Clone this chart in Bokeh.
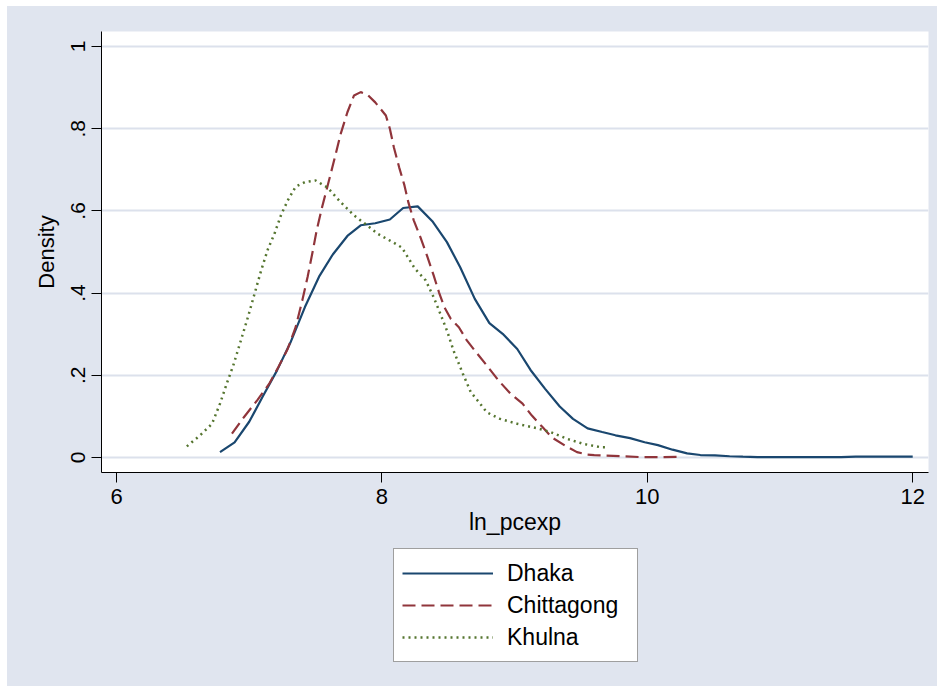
from bokeh.plotting import figure
from bokeh.layouts import column
from bokeh.models import Legend, LegendItem, FixedTicker, Range1d
from bokeh.embed import file_html
from bokeh.resources import INLINE

# ---- data ----
dhaka_x = [6.78, 6.89, 7.00, 7.10, 7.21, 7.31, 7.42, 7.53, 7.63, 7.74, 7.84, 7.95,
           8.06, 8.16, 8.27, 8.38, 8.49, 8.59, 8.70, 8.81, 8.91, 9.02, 9.12, 9.23,
           9.34, 9.44, 9.55, 9.66, 9.76, 9.87, 9.98, 10.08, 10.19, 10.30, 10.40,
           10.51, 10.62, 10.72, 10.83, 11.04, 11.25, 11.46, 11.57, 11.78, 12.00]
dhaka_y = [0.013, 0.037, 0.087, 0.147, 0.212, 0.279, 0.366, 0.442, 0.494, 0.539,
           0.565, 0.570, 0.579, 0.607, 0.611, 0.575, 0.524, 0.463, 0.386, 0.327,
           0.301, 0.264, 0.213, 0.167, 0.124, 0.094, 0.071, 0.062, 0.054, 0.047,
           0.037, 0.030, 0.019, 0.010, 0.006, 0.005, 0.003, 0.002, 0.001, 0.001,
           0.001, 0.001, 0.002, 0.002, 0.002]

chitt_x = [6.87, 6.96, 7.06, 7.15, 7.22, 7.29, 7.35, 7.40, 7.44, 7.48, 7.51, 7.55,
           7.59, 7.64, 7.69, 7.74, 7.79, 7.84, 7.89, 7.95, 8.03, 8.06, 8.09, 8.13,
           8.17, 8.20, 8.24, 8.29, 8.34, 8.39, 8.43, 8.47, 8.52, 8.58, 8.64, 8.72,
           8.79, 8.88, 8.97, 9.06, 9.13, 9.21, 9.28, 9.38, 9.47, 9.55, 9.60, 9.82,
           9.95, 10.10, 10.26]
chitt_y = [0.058, 0.098, 0.139, 0.179, 0.220, 0.264, 0.317, 0.382, 0.439, 0.504,
           0.555, 0.610, 0.660, 0.723, 0.788, 0.840, 0.881, 0.889, 0.883, 0.864,
           0.832, 0.800, 0.755, 0.706, 0.662, 0.620, 0.577, 0.536, 0.491, 0.443,
           0.402, 0.366, 0.337, 0.317, 0.285, 0.252, 0.224, 0.187, 0.155, 0.131,
           0.102, 0.074, 0.049, 0.029, 0.013, 0.007, 0.006, 0.003, 0.001, 0.001,
           0.002]

khulna_x = [6.53, 6.63, 6.72, 6.78, 6.83, 6.88, 6.93, 6.99, 7.04, 7.09, 7.14, 7.19,
            7.24, 7.29, 7.35, 7.42, 7.50, 7.59, 7.69, 7.79, 7.88, 7.97, 8.07, 8.15,
            8.25, 8.33, 8.39, 8.44, 8.49, 8.54, 8.61, 8.67, 8.73, 8.79, 8.89, 9.02,
            9.17, 9.27, 9.40, 9.52, 9.65, 9.69]
khulna_y = [0.027, 0.054, 0.082, 0.131, 0.179, 0.224, 0.277, 0.341, 0.398, 0.455,
            0.506, 0.544, 0.590, 0.625, 0.659, 0.670, 0.674, 0.657, 0.621, 0.589,
            0.567, 0.544, 0.526, 0.511, 0.459, 0.431, 0.390, 0.350, 0.309, 0.260,
            0.204, 0.159, 0.135, 0.110, 0.094, 0.082, 0.071, 0.062, 0.045, 0.033,
            0.025, 0.025]

x_ticks = [6, 8, 10, 12]
x_tick_labels = ["6", "8", "10", "12"]
y_ticks = [0, 0.2, 0.4, 0.6, 0.8, 1.0]
y_tick_labels = ["0", ".2", ".4", ".6", ".8", "1"]

series_names = ["Dhaka", "Chittagong", "Khulna"]
series_colors = ["#1A476F", "#90353B", "#55752F"]
series_dash = ["solid", "13 6", "2 4"]
series_width = [2.2, 2.2, 2.5]
series_x = [dhaka_x, chitt_x, khulna_x]
series_y = [dhaka_y, chitt_y, khulna_y]

BG = "#E0E5EF"
FONT = "Liberation Sans"

# ---------------- main plot ----------------
p = figure(width=930, height=542, output_backend="svg", toolbar_location=None,
           x_range=Range1d(5.887, 12.119), y_range=Range1d(-0.0365, 1.0365),
           min_border_left=94, min_border_right=9, min_border_top=25,
           min_border_bottom=76)
p.background_fill_color = "white"
p.border_fill_color = BG
p.outline_line_color = None

p.xgrid.grid_line_color = None
p.ygrid.grid_line_color = "#DCE1EC"
p.ygrid.grid_line_width = 2

p.xaxis.ticker = FixedTicker(ticks=x_ticks)
p.xaxis.major_label_overrides = dict(zip(x_ticks, x_tick_labels))
p.yaxis.ticker = FixedTicker(ticks=y_ticks)
p.yaxis.major_label_overrides = dict(zip(y_ticks, y_tick_labels))
p.ygrid.ticker = FixedTicker(ticks=y_ticks)

for ax in (p.xaxis, p.yaxis):
    ax.axis_line_color = "black"
    ax.axis_line_width = 1
    ax.major_tick_line_color = "black"
    ax.major_tick_out = 10
    ax.major_tick_in = 0
    ax.minor_tick_line_color = None
    ax.major_label_text_font = FONT
    ax.major_label_text_color = "black"
    ax.axis_label_text_font = FONT
    ax.axis_label_text_font_style = "normal"
    ax.axis_label_text_color = "black"

p.xaxis.axis_label = "ln_pcexp"
p.xaxis.major_label_text_font_size = "22px"
p.xaxis.axis_label_text_font_size = "23px"
p.xaxis.major_label_standoff = 6
p.xaxis.axis_label_standoff = 2

p.yaxis.axis_label = "Density"
p.yaxis.major_label_orientation = "vertical"
p.yaxis.major_label_text_font_size = "21px"
p.yaxis.axis_label_text_font_size = "22px"
p.yaxis.major_label_standoff = 6
p.yaxis.axis_label_standoff = 10

for xs, ys, col, dash, w in zip(series_x, series_y, series_colors, series_dash, series_width):
    p.line(xs, ys, line_color=col, line_width=w, line_dash=dash)

# ---------------- legend strip ----------------
# Its frame is aligned with the main plot's frame by the column layout.
lg = figure(width=930, height=138, output_backend="svg", toolbar_location=None,
            x_range=Range1d(0, 1), y_range=Range1d(0, 1),
            min_border_left=0, min_border_right=0, min_border_top=0,
            min_border_bottom=0)
lg.axis.visible = False
lg.grid.visible = False
lg.background_fill_alpha = 0
lg.border_fill_alpha = 0
lg.outline_line_color = None

items = []
for name, xs, ys, col, dash, w in zip(series_names, series_x, series_y,
                                      series_colors, series_dash, series_width):
    # same series as the main plot; they fall outside this strip's ranges,
    # only their legend swatches are visible
    r = lg.line(xs, ys, line_color=col, line_width=w, line_dash=dash)
    items.append(LegendItem(label=name, renderers=[r]))

legend = Legend(items=items, location=(292, 24), orientation="vertical")
legend.label_text_font = FONT
legend.label_text_font_size = "23px"
legend.label_text_color = "black"
legend.glyph_width = 91
legend.glyph_height = 32
legend.label_height = 32
legend.label_width = 122
legend.label_standoff = 14
legend.padding = 8
legend.spacing = 0
legend.margin = 0
legend.border_line_color = "#404040"
legend.border_line_width = 1
legend.background_fill_color = "white"
legend.background_fill_alpha = 1
lg.add_layout(legend, "center")

layout = column(p, lg, spacing=0, margin=(6, 5, 4, 7),
                styles={"background-color": BG})

open("out.html", "w").write(file_html(layout, INLINE))
